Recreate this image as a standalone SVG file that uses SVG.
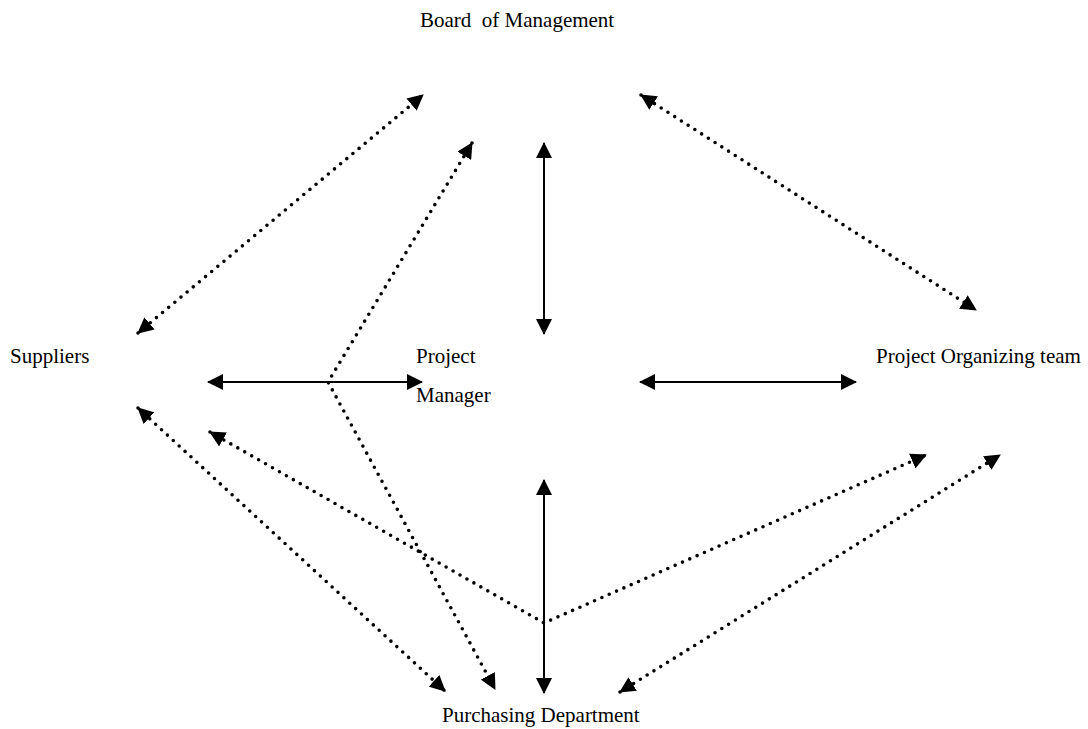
<svg xmlns="http://www.w3.org/2000/svg" width="1088" height="729" viewBox="0 0 1088 729">
<style>
text{font-family:"Liberation Serif","Times New Roman",serif;font-size:21px;fill:#000;white-space:pre}
.solid{fill:none;stroke:#000;stroke-width:2;marker-start:url(#ah);marker-end:url(#ah)}
.dot{fill:none;stroke:#000;stroke-width:3.6;stroke-linecap:round;stroke-dasharray:0 8;marker-start:url(#ah);marker-end:url(#ah)}
</style>
<defs>
<marker id="ah" viewBox="0 0 16 16" refX="15" refY="8" markerWidth="16" markerHeight="16" markerUnits="userSpaceOnUse" orient="auto-start-reverse">
<path d="M0,0 L16,8 L0,16 z" fill="#000"/>
</marker>
</defs>
<rect width="1088" height="729" fill="#fff"/>
<g id="connectors">
<line class="solid" x1="544" y1="143" x2="544" y2="334"/>
<line class="solid" x1="208" y1="382" x2="422" y2="382"/>
<line class="solid" x1="640" y1="382" x2="856" y2="382"/>
<line class="solid" x1="544" y1="480" x2="544" y2="693"/>
<line class="dot" x1="138" y1="333" x2="423" y2="95"/>
<line class="dot" x1="641" y1="95" x2="976" y2="310"/>
<polyline class="dot" points="472,143 328,382 495,689"/>
<line class="dot" x1="138" y1="408" x2="445" y2="691"/>
<polyline class="dot" points="210,432 544,623 926,455"/>
<line class="dot" x1="620" y1="692" x2="1000" y2="455"/>
</g>
<g id="board"><text x="420" y="27" xml:space="preserve">Board  of Management</text></g>
<g id="suppliers"><text x="10" y="363">Suppliers</text></g>
<g id="pm"><text x="416" y="363">Project</text><text x="416" y="402">Manager</text></g>
<g id="pot"><text x="876" y="363">Project Organizing team</text></g>
<g id="purchasing"><text x="442" y="722">Purchasing Department</text></g>
</svg>
